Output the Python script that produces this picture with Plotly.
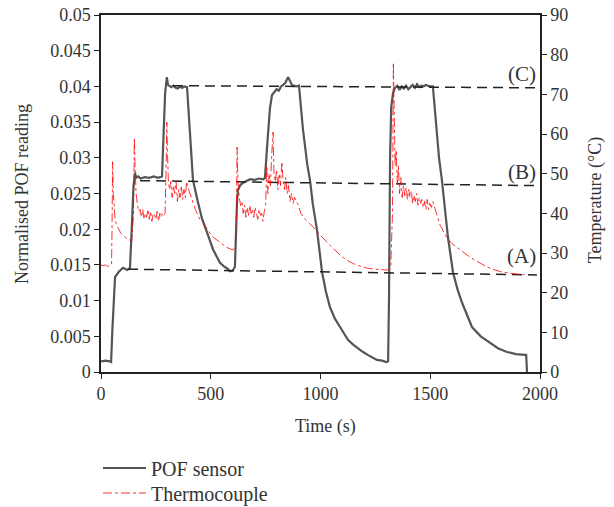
import plotly.graph_objects as go

# POF sensor (left axis)
pof_t = [0, 20, 40, 46, 52, 58, 64, 80, 100, 120, 132, 140, 148, 155, 160, 170, 180, 200, 220, 240, 260, 278,
         285, 292, 300, 305, 310, 320, 330, 340, 350, 360, 370, 380, 392, 400, 410, 419, 440, 460, 487, 510, 530,
         542, 560, 575, 588, 600, 610, 615, 620, 624, 635, 647, 660, 680, 700, 720, 740, 747, 760, 770, 779, 790,
         800, 810, 820, 830, 840, 852, 860, 870, 880, 890, 902, 920, 940, 952, 965, 984, 1007, 1025, 1043, 1065,
         1089, 1105, 1125, 1150, 1175, 1194, 1215, 1235, 1257, 1280, 1300, 1308, 1312, 1317, 1322, 1330, 1339,
         1350, 1360, 1370, 1380, 1390, 1400, 1410, 1420, 1430, 1440, 1450, 1460, 1470, 1480, 1490, 1500, 1512,
         1525, 1540, 1553, 1567, 1581, 1604, 1625, 1645, 1670, 1690, 1730, 1772, 1810, 1850, 1890, 1932, 1937, 1941]
pof_v = [0.0015, 0.0016, 0.0015, 0.0014, 0.0060, 0.0110, 0.0133, 0.0140, 0.0146, 0.0143, 0.0146, 0.0200, 0.0260,
         0.0279, 0.0272, 0.0274, 0.0271, 0.0273, 0.0272, 0.0274, 0.0272, 0.0274,
         0.0330, 0.0390, 0.0413, 0.0402, 0.0401, 0.0399, 0.0401, 0.0398, 0.0397, 0.0400, 0.0398, 0.0400, 0.0399,
         0.0360, 0.0300, 0.0269, 0.0240, 0.0215, 0.0192, 0.0172, 0.0160,
         0.0153, 0.0148, 0.0145, 0.0141, 0.0142, 0.0147, 0.0200, 0.0240, 0.0255, 0.0262, 0.0265, 0.0267, 0.0270,
         0.0269, 0.0271, 0.0270, 0.0272, 0.0330, 0.0370, 0.0388, 0.0392,
         0.0396, 0.0394, 0.0400, 0.0402, 0.0405, 0.0413, 0.0408, 0.0402, 0.0401, 0.0400, 0.0401, 0.0340, 0.0290,
         0.0269, 0.0235, 0.0199, 0.0140, 0.0112, 0.0091, 0.0075,
         0.0063, 0.0055, 0.0045, 0.0038, 0.0032, 0.0028, 0.0024, 0.0021, 0.0017, 0.0016, 0.0014, 0.0015, 0.0100,
         0.0300, 0.0370, 0.0390, 0.0398,
         0.0401, 0.0395, 0.0400, 0.0397, 0.0401, 0.0396, 0.0399, 0.0402, 0.0398, 0.0403, 0.0399, 0.0401, 0.0400,
         0.0402, 0.0401, 0.0400, 0.0400,
         0.0350, 0.0300, 0.0269, 0.0225, 0.0188, 0.0139, 0.0115, 0.0097, 0.0078, 0.0063, 0.0050, 0.0041, 0.0033,
         0.0028, 0.0025, 0.0024, 0.0024, 0.0000]

# Thermocouple (right axis, deg C)
tc_t = [0, 10, 20, 30, 40, 48, 50, 53, 56, 60, 65, 72, 80, 90, 100, 110, 120, 132, 140, 148, 152, 155, 160, 166,
        172, 178, 184, 190, 196, 202, 208, 214, 220, 226, 232, 238, 244, 250, 256, 262, 268, 274, 280, 286, 292,
        296, 300, 303, 307, 312, 318, 324, 330, 336, 342, 348, 354, 360, 366, 372, 378, 384, 390, 396, 410, 430,
        450, 465, 490, 510, 528, 550, 570, 590, 601, 612, 617, 620, 624, 630, 636, 642, 648, 654, 660, 666, 672,
        678, 684, 690, 696, 702, 708, 714, 720, 726, 732, 738, 744, 750, 755, 760, 766, 772, 778, 784, 788, 794,
        800, 806, 812, 818, 824, 830, 836, 842, 848, 854, 861, 868, 875, 882, 890, 900, 910, 930, 950, 966, 990,
        1015, 1043, 1070, 1095, 1120, 1150, 1180, 1212, 1250, 1280, 1307, 1320, 1328, 1332, 1336, 1340, 1345,
        1350, 1355, 1360, 1366, 1372, 1378, 1384, 1390, 1396, 1402, 1408, 1414, 1420, 1426, 1432, 1438, 1444,
        1450, 1456, 1462, 1468, 1474, 1480, 1486, 1492, 1498, 1505, 1512, 1520, 1530, 1545, 1560, 1576, 1600,
        1625, 1650, 1680, 1710, 1740, 1758, 1790, 1820, 1860, 1900, 1930]
tc_v = [27.0, 26.8, 27.0, 26.6, 26.9, 27.2, 35, 53, 45, 40, 38, 37, 36, 35, 34.5, 34, 33.5, 33.3, 33.0, 40, 59, 52,
        45, 42, 40.5, 41, 39, 41, 38.5, 40, 39, 41, 38.5, 40.5, 38, 40, 39.5, 38.5, 40.5, 38, 40, 39, 40, 39.5, 40,
        50, 63, 55, 48, 46, 48, 44, 47, 45, 48, 43, 46, 44, 47, 43.5, 46, 44, 48, 46.5, 44, 41,
        38.5, 37.6, 35.5, 34, 33.3, 32.3, 31.5, 31, 30.8, 31.5, 40, 56.7, 48, 44, 42, 43, 40, 42, 39, 41.5, 39.5,
        42, 40, 41, 39, 41.5, 40, 38.5, 41, 39.5, 40, 38, 40.5, 42, 52, 45, 50, 47, 55, 60.5, 50, 48,
        51, 46, 50, 47, 53, 48, 46, 49, 45, 47, 43, 45, 42.5, 44, 43, 42, 40, 38.5, 37.4, 36.6, 35,
        33.5, 32, 30.5, 29.2, 28.2, 27.3, 26.7, 26.2, 25.9, 25.8, 25.7, 26.5, 40, 78, 60, 52, 56,
        47, 52, 45, 49, 44, 47, 44.5, 46.5, 43.5, 46, 44, 45.5, 42.5, 44.5, 43, 45, 42,
        44, 42.5, 43.5, 41.5, 43, 41, 43.5, 41, 42.5, 41.5, 43, 41.6, 40, 37, 35.5, 33.8, 32.3,
        31.2, 30.2, 29.0, 28, 27.1, 26.5, 25.8, 25.3, 24.9, 24.6, 24.5]

# Reference levels (left axis)
lvl_names = ["(A)", "(B)", "(C)"]
lvl_t0 = [123, 178, 328]
lvl_v0 = [0.0144, 0.0268, 0.0401]
lvl_t1 = [1986, 2000, 2000]
lvl_v1 = [0.0136, 0.0261, 0.0398]
lbl_t = [1915, 1920, 1920]
lbl_v = [0.0162, 0.0280, 0.0418]

FONT = "Liberation Serif"
TXT = "#333333"

fig = go.Figure()
fig.add_trace(go.Scatter(x=pof_t, y=pof_v, mode="lines", name="POF sensor", legend="legend",
                         line=dict(color="#555555", width=2.2), yaxis="y"))
fig.add_trace(go.Scatter(x=tc_t, y=tc_v, mode="lines", name="Thermocouple", legend="legend2",
                         line=dict(color="rgba(255,0,0,0.8)", width=1, dash="dashdot"), yaxis="y2"))
for i in range(3):
    fig.add_trace(go.Scatter(x=[lvl_t0[i], lvl_t1[i]], y=[lvl_v0[i], lvl_v1[i]], mode="lines",
                             line=dict(color="#222222", width=1.5, dash="10px,6px"),
                             showlegend=False, hoverinfo="skip", yaxis="y"))
    fig.add_annotation(x=lbl_t[i], y=lbl_v[i], text=lvl_names[i], showarrow=False,
                       xref="x", yref="y", font=dict(family=FONT, size=21, color=TXT))

# axis titles
title_font = dict(family=FONT, size=18, color=TXT)
fig.add_annotation(text="Time (s)", xref="paper", yref="paper", x=0.5125, y=-0.154,
                   xanchor="center", yanchor="middle", showarrow=False, font=title_font)
fig.add_annotation(text="Normalised POF reading", xref="paper", yref="paper", x=-0.18, y=0.4986,
                   xanchor="center", yanchor="middle", textangle=-90, showarrow=False, font=title_font)
fig.add_annotation(text="Temperature (°C)", xref="paper", yref="paper", x=1.128, y=0.4818,
                   xanchor="center", yanchor="middle", textangle=-90, showarrow=False, font=title_font)

axis_common = dict(showgrid=False, zeroline=False, linecolor="#222222", linewidth=1.5,
                   ticks="outside", ticklen=5, tickcolor="#222222", automargin=False,
                   ticklabeloverflow="allow",
                   tickfont=dict(family=FONT, size=18, color=TXT))

leg_common = dict(xref="container", yref="container", xanchor="left", yanchor="middle",
                  bgcolor="rgba(0,0,0,0)", font=dict(family=FONT, size=20, color=TXT), itemwidth=43)

fig.update_layout(
    width=614, height=507,
    margin=dict(l=101, r=74, t=15, b=135, autoexpand=False),
    paper_bgcolor="white", plot_bgcolor="white",
    font=dict(family=FONT, size=18, color=TXT),
    xaxis=dict(range=[0, 2000], tickvals=[0, 500, 1000, 1500, 2000], mirror=True, **axis_common),
    yaxis=dict(range=[0, 0.05], dtick=0.005, tickformat="~g", **axis_common),
    yaxis2=dict(range=[0, 90], dtick=10, overlaying="y", side="right", **axis_common),
    legend=dict(x=98 / 614, y=1 - 468 / 507, **leg_common),
    legend2=dict(x=98 / 614, y=1 - 493 / 507, **leg_common),
    showlegend=True,
)

fig.write_html("out.html", config={"displayModeBar": False},
               post_script="document.body.style.margin='0';document.body.style.overflow='hidden';")
